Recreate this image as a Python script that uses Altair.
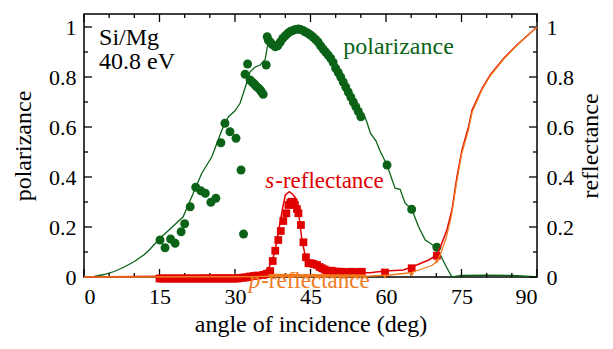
import altair as alt
import pandas as pd

GREEN = "#0b6318"
RED = "#e00000"
ORANGE = "#f07a1e"
FONT = "Liberation Serif"

# ---- polarizance, measured ----
pol_meas_a = [15.1, 16.1, 17.2, 18.1, 19.3, 20.0, 21.1, 22.2, 23.2, 24.1, 25.2, 26.2,
              27.2, 28.0, 29.0, 30.2, 31.2, 31.7, 32.0, 32.5, 33.0, 33.4, 33.7, 34.0,
              34.3, 34.7, 35.0, 35.3, 35.6, 36.2, 36.4, 36.6, 37.0, 37.4, 38.0, 38.5,
              39.0, 39.5, 40.0, 40.5, 41.0, 41.5, 42.0, 42.6, 43.0, 43.5, 44.0, 44.5,
              45.0, 45.5, 46.0, 46.5, 47.0, 47.5, 48.0, 48.5, 49.0, 49.5, 50.0, 50.5,
              51.0, 51.5, 52.0, 52.5, 53.0, 53.5, 54.0, 54.5, 55.0, 60.2, 65.1, 70.1]
pol_meas_v = [0.148, 0.117, 0.152, 0.135, 0.181, 0.213, 0.281, 0.359, 0.345, 0.335, 0.299, 0.315,
              0.537, 0.615, 0.581, 0.555, 0.428, 0.172, 0.811, 0.852, 0.788, 0.780, 0.775, 0.768,
              0.761, 0.755, 0.748, 0.740, 0.731, 0.848, 0.961, 0.948, 0.940, 0.930, 0.921, 0.925,
              0.940, 0.955, 0.965, 0.975, 0.982, 0.986, 0.990, 0.992, 0.990, 0.986, 0.980, 0.975,
              0.968, 0.960, 0.950, 0.940, 0.925, 0.912, 0.900, 0.888, 0.875, 0.858, 0.835, 0.818,
              0.800, 0.780, 0.760, 0.740, 0.720, 0.700, 0.681, 0.662, 0.641, 0.448, 0.271, 0.119]

# ---- polarizance, theory ----
pol_th_a = [0, 2, 4, 6, 8, 10, 12, 13.1, 15.1, 17, 19.7, 21.7, 23.4, 25.4, 27.4, 28.7, 30,
            31, 32.3, 33, 34, 35, 36, 36.5, 37, 37.5, 38, 39, 40, 41, 42, 43, 44, 45, 46,
            47, 48, 49, 50, 51, 52, 53, 54, 55, 55.5, 56.2, 56.9, 58, 58.8, 60.2, 61.8,
            62.8, 63.8, 65.1, 66.5, 67.8, 68.8, 70.1, 71, 72, 73.1, 75, 80, 85, 87, 90]
pol_th_v = [0, 0.002, 0.01, 0.022, 0.04, 0.062, 0.09, 0.111, 0.155, 0.19, 0.241, 0.335, 0.415,
            0.481, 0.588, 0.641, 0.665, 0.695, 0.775, 0.821, 0.84, 0.848, 0.87, 0.93, 0.95,
            0.93, 0.925, 0.94, 0.965, 0.98, 0.988, 0.992, 0.985, 0.972, 0.955, 0.93, 0.905,
            0.875, 0.84, 0.80, 0.76, 0.72, 0.685, 0.655, 0.655, 0.62, 0.575, 0.545, 0.505,
            0.448, 0.355, 0.351, 0.295, 0.271, 0.2, 0.148, 0.135, 0.115, 0.08, 0.04, 0.0,
            0.006, 0.007, 0.006, 0.004, 0.0]

# ---- s-reflectance, measured ----
s_meas_a = [15.0, 15.5, 16.0, 16.5, 17.0, 17.5, 18.0, 18.5, 19.0, 19.5, 20.0, 20.5, 21.0,
            21.5, 22.0, 22.5, 23.0, 23.5, 24.0, 24.5, 25.0, 25.5, 26.0, 26.5, 27.0, 27.5,
            28.0, 28.5, 29.0, 29.5, 30.0, 30.5, 31.0, 31.5, 32.0, 32.5, 33.0, 33.7, 34.5,
            35.6, 36.3, 37.0, 37.5, 38.0, 38.6, 39.1, 39.6, 40.2, 40.6, 41.0, 41.3, 41.6,
            41.9, 42.3, 42.6, 43.1, 43.6, 44.1, 44.6, 45.1, 45.6, 46.3, 46.8, 47.3, 47.8,
            48.2, 48.7, 49.2, 49.7, 50.2, 50.7, 51.2, 51.7, 52.2, 52.7, 53.2, 53.7, 54.2,
            54.7, 55.2, 59.8, 65.1, 70.1]
s_meas_v = [-0.006, -0.006, -0.006, -0.006, -0.006, -0.006, -0.006, -0.006, -0.006, -0.006,
            -0.006, -0.006, -0.006, -0.006, -0.006, -0.006, -0.006, -0.006, -0.006, -0.006,
            -0.006, -0.006, -0.006, -0.006, -0.006, -0.006, -0.006, -0.006, -0.006, -0.006,
            -0.006, -0.006, -0.004, -0.003, -0.002, -0.001, 0.002, 0.004, 0.006,
            0.008, 0.012, 0.024, 0.064, 0.105, 0.148, 0.184, 0.224, 0.255, 0.288, 0.298, 0.301, 0.298,
            0.288, 0.272, 0.255, 0.208, 0.139, 0.079, 0.055, 0.055, 0.052, 0.048, 0.040, 0.035, 0.030,
            0.025, 0.025, 0.025, 0.022, 0.021, 0.021, 0.021, 0.019, 0.017, 0.020, 0.021, 0.018, 0.017,
            0.020, 0.021, 0.018, 0.035, 0.085]

# ---- s-reflectance, theory ----
s_th_a = [0, 5, 10, 15, 20, 25, 30, 33, 35, 36.5, 37.3, 38.0, 38.8, 39.5, 40.0, 40.8, 41.5,
          42.3, 42.8, 43.3, 43.8, 44.3, 45, 46, 47, 48, 50, 52, 54, 56.9, 58, 60.8, 63.5,
          66.1, 68.5, 70.1, 71, 72.1, 73.1, 74.1, 75.1, 76.4, 77.1, 79.1, 80.7, 83.4, 86, 90]
s_th_v = [0, 0.001, 0.002, 0.003, 0.004, 0.006, 0.008, 0.012, 0.018, 0.03, 0.06, 0.108, 0.2,
          0.28, 0.328, 0.341, 0.33, 0.308, 0.23, 0.148, 0.1, 0.068, 0.05, 0.04, 0.03, 0.025,
          0.02, 0.018, 0.017, 0.017, 0.02, 0.025, 0.028, 0.048, 0.068, 0.088, 0.13, 0.188,
          0.268, 0.401, 0.508, 0.601, 0.668, 0.755, 0.808, 0.875, 0.928, 1.0]

# ---- p-reflectance, measured ----
p_meas_a = [37.0, 37.5, 38.0, 38.5, 39.0, 39.5, 40.0, 40.5, 41.0, 41.5, 42.0, 42.5, 43.0,
            43.5, 44.0, 44.5, 45.0, 45.5, 46.0, 46.5, 47.0, 47.5, 48.0, 48.5, 49.0, 49.5,
            50.0, 50.5, 51.0, 51.5, 52.0, 52.5, 53.0, 53.5, 54.0, 54.5, 55.0, 55.5,
            59.8, 65.1, 70.1]
p_meas_v = [0.004, 0.004, 0.005, 0.004, 0.005, 0.004, 0.005, 0.004, 0.004, 0.005, 0.004, 0.004,
            0.004, 0.003, 0.004, 0.003, 0.003, 0.004, 0.003, 0.003, 0.003, 0.002, 0.003, 0.003,
            0.002, 0.003, 0.002, 0.003, 0.002, 0.002, 0.003, 0.002, 0.002, 0.003, 0.002, 0.002,
            0.002, 0.002, 0.001, 0.008, 0.061]

# ---- p-reflectance, theory ----
p_th_a = [0, 10, 20, 30, 35, 37, 45, 56.9, 60.8, 64.8, 67.5, 69, 70.1, 71, 72, 73, 74, 75,
          76.4, 77.1, 79.1, 80.7, 83.4, 86, 90]
p_th_v = [0, 0.0, 0.001, 0.001, 0.002, 0.003, 0.003, 0.004, 0.008, 0.017, 0.035, 0.045, 0.061,
          0.1, 0.16, 0.245, 0.375, 0.49, 0.59, 0.66, 0.75, 0.805, 0.872, 0.926, 1.0]

# ---- axes ----
x_major = [0, 15, 30, 45, 60, 75, 90]
x_minor = [5, 10, 20, 25, 35, 40, 50, 55, 65, 70, 80, 85]
y_major = [0, 0.2, 0.4, 0.6, 0.8, 1.0]
y_minor = [0.1, 0.3, 0.5, 0.7, 0.9]

# ---- annotations ----
ann_text = ["Si/Mg", "40.8 eV", "polarizance"]
ann_a = [3.0, 3.0, 51.5]
ann_v = [0.928, 0.831, 0.891]
ann_col = ["black", "black", GREEN]

W, H = 453, 263
xs = alt.Scale(domain=[0, 90], nice=False, zero=False)
ys = alt.Scale(domain=[0, 1.052], nice=False, zero=False)

X_AX = alt.Axis(values=x_major, ticks=False, domain=False, grid=False, labelPadding=9,
                title="angle of incidence (deg)", titlePadding=5)
YL_AX = alt.Axis(values=y_major, ticks=False, domain=False, grid=False, format="~g",
                 labelPadding=8, title="polarizance", titlePadding=13, orient="left")
YR_AX = alt.Axis(values=y_major, ticks=False, domain=False, grid=False, format="~g",
                 labelPadding=9, title="reflectance", titlePadding=5, orient="right",
                 titleAngle=270, titleBaseline="top")


def df(a, v):
    return pd.DataFrame({"a": a, "v": v})


def X():
    return alt.X("a:Q", scale=xs, axis=X_AX)


def YL():
    return alt.Y("v:Q", scale=ys, axis=YL_AX)


def YR():
    return alt.Y("v:Q", scale=ys, axis=YR_AX)


pol_line = alt.Chart(df(pol_th_a, pol_th_v)).mark_line(color=GREEN, strokeWidth=1.3).encode(x=X(), y=YL())
pol_pts = alt.Chart(df(pol_meas_a, pol_meas_v)).mark_point(
    shape="circle", filled=True, color=GREEN, opacity=1, size=80).encode(x=X(), y=YL())

ticks_df_xM = pd.DataFrame({"a": x_major})
ticks_df_xm = pd.DataFrame({"a": x_minor})
ticks_df_yM = pd.DataFrame({"v": y_major})
ticks_df_ym = pd.DataFrame({"v": y_minor})

tick_layers = []
for d, L in [(ticks_df_xM, 8), (ticks_df_xm, 4)]:
    tick_layers.append(alt.Chart(d).mark_rule(color="black", strokeWidth=1.3).encode(
        x=X(), y=alt.value(H), y2=alt.value(H - L)))
    tick_layers.append(alt.Chart(d).mark_rule(color="black", strokeWidth=1.3).encode(
        x=X(), y=alt.value(0), y2=alt.value(L)))
for d, L in [(ticks_df_yM, 8), (ticks_df_ym, 4)]:
    tick_layers.append(alt.Chart(d).mark_rule(color="black", strokeWidth=1.3).encode(
        y=YL(), x=alt.value(0), x2=alt.value(L)))
    tick_layers.append(alt.Chart(d).mark_rule(color="black", strokeWidth=1.3).encode(
        y=YL(), x=alt.value(W), x2=alt.value(W - L)))

ann = alt.Chart(pd.DataFrame({"a": ann_a, "v": ann_v, "t": ann_text, "c": ann_col})).mark_text(
    font=FONT, fontSize=24, align="left", baseline="alphabetic").encode(
    x=X(), y=YL(), text="t:N", color=alt.Color("c:N", scale=None))

left = alt.layer(pol_line, pol_pts, *tick_layers, ann)

s_line = alt.Chart(df(s_th_a, s_th_v)).mark_line(color=RED, strokeWidth=1.5).encode(x=X(), y=YR())
s_pts = alt.Chart(df(s_meas_a, s_meas_v)).mark_point(
    shape="square", filled=True, color=RED, opacity=1, size=60).encode(x=X(), y=YR())
p_line = alt.Chart(df(p_th_a, p_th_v)).mark_line(color=ORANGE, strokeWidth=1.3).encode(x=X(), y=YR())
p_pts = alt.Chart(df(p_meas_a, p_meas_v)).mark_point(
    shape="triangle-down", filled=True, color=ORANGE, opacity=1, size=22).encode(x=X(), y=YR())

lab_a = [38.0, 35.2]
lab_v = [0.355, -0.045]
s_it = alt.Chart(pd.DataFrame({"a": [lab_a[0]], "v": [lab_v[0]], "t": ["s"]})).mark_text(
    font=FONT, fontSize=23, fontStyle="italic", align="right", baseline="alphabetic", color=RED,
    dx=-1).encode(x=X(), y=YR(), text="t:N")
s_rest = alt.Chart(pd.DataFrame({"a": [lab_a[0]], "v": [lab_v[0]], "t": ["-reflectance"]})).mark_text(
    font=FONT, fontSize=23, align="left", baseline="alphabetic", color=RED).encode(x=X(), y=YR(), text="t:N")
p_it = alt.Chart(pd.DataFrame({"a": [lab_a[1]], "v": [lab_v[1]], "t": ["p"]})).mark_text(
    font=FONT, fontSize=23, fontStyle="italic", align="right", baseline="alphabetic", color=ORANGE,
    dx=-1).encode(x=X(), y=YR(), text="t:N")
p_rest = alt.Chart(pd.DataFrame({"a": [lab_a[1]], "v": [lab_v[1]], "t": ["-reflectance"]})).mark_text(
    font=FONT, fontSize=23, align="left", baseline="alphabetic", color=ORANGE).encode(x=X(), y=YR(), text="t:N")

right = alt.layer(s_line, s_pts, p_line, p_pts, s_it, s_rest, p_it, p_rest)

chart = alt.layer(left, right).resolve_scale(y="independent").properties(
    width=W, height=H,
    autosize=alt.AutoSizeParams(type="none"),
    padding={"left": 76, "top": 6, "right": 68, "bottom": 64},
).configure(font=FONT).configure_view(stroke="black", strokeWidth=1.5).configure_axis(
    labelFont=FONT, labelFontSize=22, labelColor="black",
    titleFont=FONT, titleFontSize=24, titleFontWeight="normal", titleColor="black",
)

chart.save("out.html", embed_options={"renderer": "svg", "actions": False})
